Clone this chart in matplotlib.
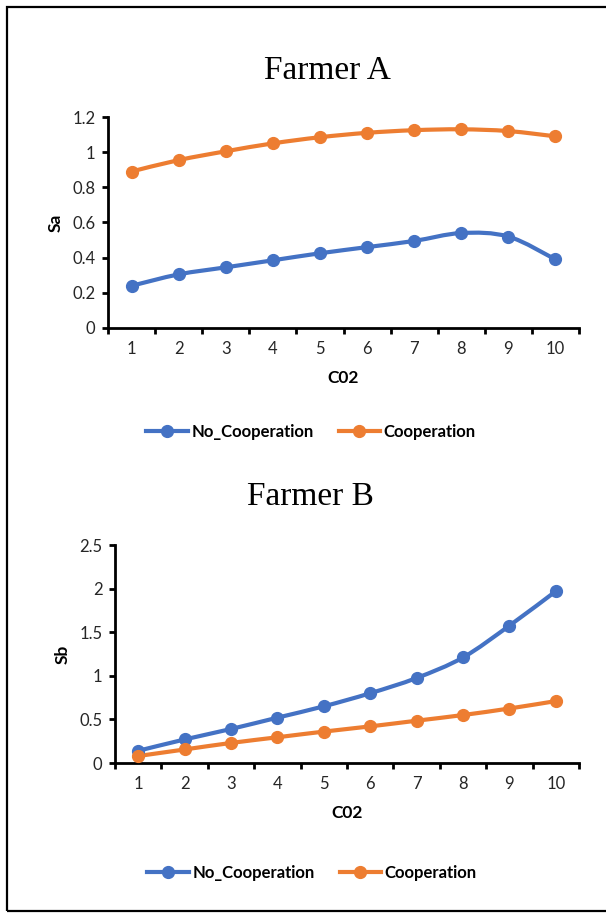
import matplotlib.pyplot as plt
import numpy as np
from matplotlib.lines import Line2D
from matplotlib.patches import PathPatch, Rectangle
from matplotlib.path import Path

plt.rcParams["font.family"] = ["Lato", "DejaVu Sans"]

co2 = list(range(1, 11))

sa_no_coop = [0.24, 0.305, 0.345, 0.385, 0.425, 0.46, 0.495, 0.54, 0.52, 0.39]
sa_coop = [0.89, 0.955, 1.005, 1.05, 1.085, 1.11, 1.125, 1.13, 1.12, 1.09]

sb_no_coop = [0.14, 0.27, 0.39, 0.52, 0.65, 0.80, 0.975, 1.21, 1.575, 1.97]
sb_coop = [0.08, 0.155, 0.23, 0.295, 0.36, 0.42, 0.485, 0.55, 0.625, 0.71]

sa_ticks = [0, 0.2, 0.4, 0.6, 0.8, 1, 1.2]
sb_ticks = [0, 0.5, 1, 1.5, 2, 2.5]

BLUE = "#4472C4"
ORANGE = "#ED7D31"
TICK_GREY = "#262626"
LW = 3.0
MS = 8.5


def smooth_path(x, y):
    # cubic bezier through every point, like a spreadsheet "smoothed line"
    pts = np.column_stack([x, y]).astype(float)
    padded = np.vstack([pts[:1], pts, pts[-1:]])
    verts = [pts[0]]
    codes = [Path.MOVETO]
    for i in range(len(pts) - 1):
        p0, p1, p2, p3 = padded[i], padded[i + 1], padded[i + 2], padded[i + 3]
        verts += [p1 + (p2 - p0) / 6, p2 - (p3 - p1) / 6, p2]
        codes += [Path.CURVE4] * 3
    return Path(verts, codes)


def draw_series(ax, x, y, color):
    ax.add_patch(PathPatch(smooth_path(x, y), facecolor="none", edgecolor=color,
                           lw=LW, capstyle="round", joinstyle="round", zorder=3))
    ax.plot(x, y, ls="none", marker="o", ms=MS, color=color, zorder=4)


def style_axes(ax, yticks, ylabel):
    ax.set_xlim(0.5, 10.5)
    ax.set_ylim(yticks[0], yticks[-1])
    for side in ("top", "right"):
        ax.spines[side].set_visible(False)
    for side in ("left", "bottom"):
        ax.spines[side].set_linewidth(2)
        ax.spines[side].set_color("black")

    # tick marks sit between categories, labels on the categories
    ax.set_xticks(np.arange(0.5, 11, 1))
    ax.set_xticklabels([])
    ax.set_xticks(co2, minor=True)
    ax.set_xticklabels([str(c) for c in co2], minor=True)
    ax.tick_params(axis="x", which="major", direction="out", length=4, width=2)
    ax.tick_params(axis="x", which="minor", length=0, pad=9,
                   labelsize=12, labelcolor=TICK_GREY)

    ax.set_yticks(yticks)
    ax.set_yticklabels([f"{t:g}" for t in yticks])
    ax.tick_params(axis="y", direction="out", length=4, width=2, pad=5,
                   labelsize=12, labelcolor=TICK_GREY)

    ax.set_xlabel("C02", fontsize=12.5, fontweight="bold", labelpad=10)
    ax.set_ylabel(ylabel, fontsize=12.5, fontweight="bold", labelpad=6)


fig = plt.figure(figsize=(6.06, 9.13), dpi=100)

# page frame
fig.add_artist(Rectangle((7 / 606, 1 - 911 / 913), 1.05, (911 - 7) / 913,
                         transform=fig.transFigure, fill=False,
                         edgecolor="black", lw=1.6))

ax_a = fig.add_axes([108 / 606, 1 - 328 / 913, 471 / 606, 211 / 913])
draw_series(ax_a, co2, sa_no_coop, BLUE)
draw_series(ax_a, co2, sa_coop, ORANGE)
style_axes(ax_a, sa_ticks, "Sa")

ax_b = fig.add_axes([115 / 606, 1 - 763 / 913, 464 / 606, 218 / 913])
draw_series(ax_b, co2, sb_no_coop, BLUE)
draw_series(ax_b, co2, sb_coop, ORANGE)
style_axes(ax_b, sb_ticks, "Sb")

fig.text(327 / 606, 1 - 71 / 913, "Farmer A", ha="center", va="center",
         fontsize=24, family="Liberation Serif")
fig.text(310 / 606, 1 - 497 / 913, "Farmer B", ha="center", va="center",
         fontsize=24, family="Liberation Serif")

handles = [
    Line2D([], [], color=BLUE, lw=LW, marker="o", ms=MS),
    Line2D([], [], color=ORANGE, lw=LW, marker="o", ms=MS),
]
labels = ["No_Cooperation", "Cooperation"]
for x_c, y_c in [(311 / 606, 1 - 432 / 913), (312 / 606, 1 - 873 / 913)]:
    fig.legend(handles, labels, loc="center", bbox_to_anchor=(x_c, y_c), ncol=2,
               frameon=False, handlelength=2.5, handletextpad=0.2,
               columnspacing=1.5, prop={"size": 12, "weight": "bold"})

fig.savefig("out.png", dpi=100)
